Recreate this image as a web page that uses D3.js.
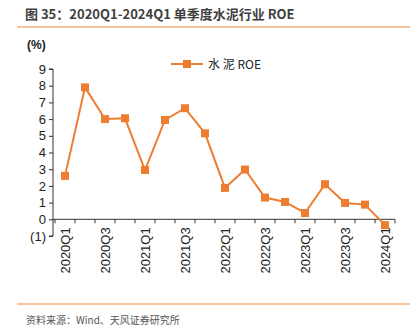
<!DOCTYPE html>
<html><head><meta charset="utf-8">
<script src="https://cdn.jsdelivr.net/npm/d3@7"></script>
<style>body{margin:0;background:#fff}svg{display:block}</style>
</head><body>
<svg id="c" width="417" height="333"></svg>
<script>
const categories = ["2020Q1","2020Q2","2020Q3","2020Q4","2021Q1","2021Q2","2021Q3","2021Q4","2022Q1","2022Q2","2022Q3","2022Q4","2023Q1","2023Q2","2023Q3","2023Q4","2024Q1"];
const roe = [2.6,7.9,6.0,6.05,2.95,5.95,6.65,5.15,1.88,2.98,1.3,1.04,0.38,2.1,0.98,0.88,-0.35];
const yTicks = [-1,0,1,2,3,4,5,6,7,8,9];
const seriesName = "水 泥 ROE";
const title = "图 35：2020Q1-2024Q1 单季度水泥行业 ROE";
const source = "资料来源：Wind、天风证券研究所";

const svg = d3.select("#c");
const orange = "#ED7D31";
const font = "'Liberation Sans', Arial, 'Noto Sans CJK SC', sans-serif";

// title and rules
svg.append("text").attr("x", 25).attr("y", 19).attr("font-family", "'Noto Sans CJK SC', sans-serif")
  .attr("font-size", 13).attr("font-weight", "bold").attr("fill", "#404040").text(title);
svg.append("line").attr("x1", 17).attr("x2", 410).attr("y1", 27).attr("y2", 27).attr("stroke", "#F0883A").attr("stroke-width", 1.2);
svg.append("line").attr("x1", 17).attr("x2", 410).attr("y1", 304).attr("y2", 304).attr("stroke", "#F0883A").attr("stroke-width", 1.2);
svg.append("text").attr("x", 26).attr("y", 324).attr("font-family", "'Noto Sans CJK SC', sans-serif")
  .attr("font-size", 10).attr("fill", "#555").text(source);

svg.append("text").attr("x", 27).attr("y", 49).attr("font-family", font).attr("font-size", 12)
  .attr("font-weight", "bold").attr("fill", "#222").text("(%)");

const x = d3.scaleBand().domain(categories).range([55, 395]);
const y = d3.scaleLinear().domain([-1, 9]).range([236, 69]);

// y axis
const yAxis = d3.axisLeft(y).tickValues(yTicks).tickSize(4).tickFormat(d => d < 0 ? "(" + Math.abs(d) + ")" : d);
const gy = svg.append("g").attr("transform", "translate(53,0)").call(yAxis);
gy.select(".domain").attr("stroke", "#333").attr("d", `M-4,${y(9)}H0V${y(-1)}H-4`);
gy.selectAll(".tick line").attr("stroke", "#333");
gy.selectAll("text").attr("font-family", font).attr("font-size", 13).attr("fill", "#222").attr("x", -7);

// x axis at zero
const gx = svg.append("g").attr("transform", `translate(0,${y(0)})`);
gx.append("line").attr("x1", 53).attr("x2", 395).attr("y1", 0).attr("y2", 0).attr("stroke", "#333");
const bounds = categories.map(c => x(c)).concat([x(categories[categories.length - 1]) + x.bandwidth()]);
gx.selectAll("line.tk").data(bounds).enter().append("line").attr("class", "tk")
  .attr("x1", d => d).attr("x2", d => d).attr("y1", 0).attr("y2", 4).attr("stroke", "#333");
gx.selectAll("text").data(categories.filter((c, i) => i % 2 === 0)).enter().append("text")
  .attr("transform", d => `translate(${x(d) + x.bandwidth() / 2 + 4.5},8) rotate(-90)`)
  .attr("text-anchor", "end").attr("font-family", font).attr("font-size", 13).attr("fill", "#222").text(d => d);

// line
const line = d3.line().x((d, i) => x(categories[i]) + x.bandwidth() / 2).y(d => y(d));
svg.append("path").datum(roe).attr("d", line).attr("fill", "none").attr("stroke", orange).attr("stroke-width", 2);
svg.selectAll("rect.pt").data(roe).enter().append("rect").attr("class", "pt")
  .attr("x", (d, i) => x(categories[i]) + x.bandwidth() / 2 - 4).attr("y", d => y(d) - 4)
  .attr("width", 8).attr("height", 8).attr("fill", orange);

// legend
svg.append("line").attr("x1", 171).attr("x2", 203).attr("y1", 64).attr("y2", 64).attr("stroke", orange).attr("stroke-width", 2);
svg.append("rect").attr("x", 183).attr("y", 60).attr("width", 8).attr("height", 8).attr("fill", orange);
svg.append("text").attr("x", 208).attr("y", 68.5).attr("font-family", "'Noto Sans CJK SC', sans-serif")
  .attr("font-size", 12).attr("fill", "#222").text(seriesName);
</script>
</body></html>
